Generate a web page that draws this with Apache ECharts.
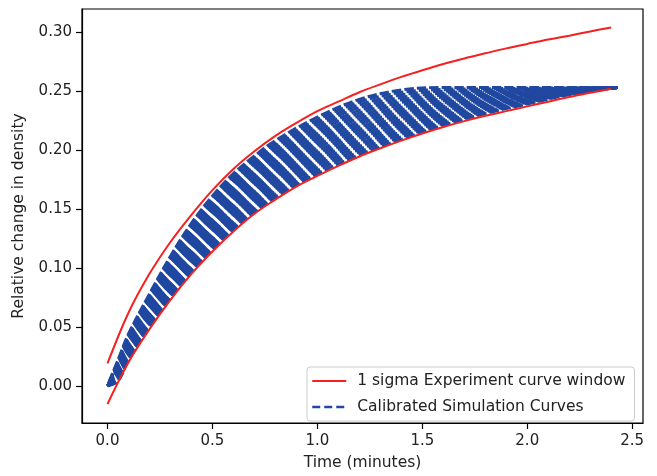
<!DOCTYPE html>
<html>
<head>
<meta charset="utf-8">
<script src="https://cdn.jsdelivr.net/npm/echarts@6/dist/echarts.min.js"></script>
<style>
html,body{margin:0;padding:0;background:#fff;}
#chart{width:657px;height:476px;}
</style>
</head>
<body>
<div id="chart"></div>
<script>
// Experiment 1-sigma window (red curves)
var expTime = [0,0.1,0.2,0.3,0.4,0.5,0.6,0.7,0.8,0.9,1.0,1.1,1.2,1.3,1.4,1.5,1.6,1.7,1.8,1.9,2.0,2.1,2.2,2.3,2.4];
var expUpper = [0.019,0.062,0.095,0.122,0.145,0.166,0.184,0.199,0.212,0.223,0.233,0.241,0.249,0.2557,0.262,0.2677,0.273,0.2777,0.282,0.2862,0.290,0.2937,0.297,0.3006,0.304];
var expLower = [-0.0155,0.020,0.048,0.073,0.095,0.114,0.131,0.146,0.158,0.169,0.178,0.1865,0.1945,0.2015,0.208,0.214,0.2195,0.2245,0.229,0.233,0.237,0.241,0.245,0.2485,0.252];

// Calibrated simulation curves (blue dashed), bottom to top
var simTime = [0,0.05,0.1,0.2,0.3,0.4,0.5,0.6,0.7,0.8,1.0,1.2,1.4,1.6,1.8,2.0,2.2,2.43];
var sim00 = [0,.004,.022,.050,.075,.097,.116,.133,.147,.160,.180,.196,.209,.221,.231,.239,.247,.253];
var sim01 = [0,.0049,.0231,.0514,.0768,.0991,.1183,.1354,.1494,.1624,.1824,.1984,.2111,.2226,.2321,.2397,.2473,.253];
var sim02 = [0,.0058,.0242,.0528,.0785,.1011,.1205,.1377,.1518,.1648,.1848,.2007,.2132,.2242,.2332,.2404,.2476,.253];
var sim03 = [0,.0067,.0253,.0542,.0803,.1032,.1228,.1401,.1542,.1672,.1872,.2031,.2153,.2258,.2343,.2411,.2479,.253];
var sim04 = [0,.0076,.0264,.0556,.0820,.1052,.1250,.1424,.1566,.1696,.1896,.2054,.2174,.2274,.2354,.2418,.2482,.253];
var sim05 = [0,.0085,.0275,.0570,.0838,.1073,.1273,.1448,.1590,.1720,.1920,.2078,.2195,.2290,.2365,.2425,.2485,.253];
var sim06 = [0,.0094,.0286,.0584,.0855,.1093,.1295,.1471,.1614,.1744,.1944,.2101,.2216,.2306,.2376,.2432,.2488,.253];
var sim07 = [0,.0103,.0297,.0598,.0873,.1114,.1318,.1495,.1638,.1768,.1968,.2125,.2237,.2322,.2387,.2439,.2491,.253];
var sim08 = [0,.0112,.0308,.0612,.0890,.1134,.1340,.1518,.1662,.1792,.1992,.2148,.2258,.2338,.2398,.2446,.2494,.253];
var sim09 = [0,.0121,.0319,.0626,.0908,.1155,.1363,.1542,.1686,.1816,.2016,.2172,.2279,.2354,.2409,.2453,.2497,.253];
var sim10 = [0,.0130,.0330,.0640,.0925,.1175,.1385,.1565,.1710,.1840,.2040,.2195,.2300,.2370,.2420,.2460,.2500,.253];
var sim11 = [0,.0139,.0341,.0654,.0943,.1196,.1408,.1589,.1734,.1864,.2064,.2219,.2321,.2386,.2431,.2467,.2503,.253];
var sim12 = [0,.0148,.0352,.0668,.0960,.1216,.1430,.1612,.1758,.1888,.2088,.2242,.2342,.2402,.2442,.2474,.2506,.253];
var sim13 = [0,.0157,.0363,.0682,.0978,.1237,.1453,.1636,.1782,.1912,.2112,.2266,.2363,.2418,.2453,.2481,.2509,.253];
var sim14 = [0,.0166,.0374,.0696,.0995,.1257,.1475,.1659,.1806,.1936,.2136,.2289,.2384,.2434,.2464,.2488,.2512,.253];
var sim15 = [0,.0175,.0385,.0710,.1013,.1278,.1498,.1683,.1830,.1960,.2160,.2313,.2405,.2450,.2475,.2495,.2515,.253];
var sim16 = [0,.0184,.0396,.0724,.1030,.1298,.1520,.1706,.1854,.1984,.2184,.2336,.2426,.2466,.2486,.2502,.2518,.253];
var sim17 = [0,.0193,.0407,.0738,.1048,.1319,.1543,.1730,.1878,.2008,.2208,.2360,.2447,.2482,.2497,.2509,.2521,.253];
var sim18 = [0,.0202,.0418,.0752,.1065,.1339,.1565,.1753,.1902,.2032,.2232,.2383,.2468,.2498,.2508,.2516,.2524,.253];
var sim19 = [0,.0211,.0429,.0766,.1083,.1360,.1588,.1777,.1926,.2056,.2256,.2407,.2489,.2514,.2519,.2523,.2527,.253];
var sim20 = [0,.0220,.0440,.0780,.1100,.1380,.1610,.1800,.1950,.2080,.2280,.2430,.2510,.2530,.2530,.2530,.2530,.253];

var xTicks = [0,0.5,1.0,1.5,2.0,2.5];
var yTicks = [0,0.05,0.10,0.15,0.20,0.25,0.30];

var expName = '1 sigma Experiment curve window';
var simName = 'Calibrated Simulation Curves';
var sims = [sim00,sim01,sim02,sim03,sim04,sim05,sim06,sim07,sim08,sim09,sim10,
            sim11,sim12,sim13,sim14,sim15,sim16,sim17,sim18,sim19,sim20];

var RED = '#f52020', BLUE = '#2048a0';
var DASH = [9.5, 3];
function pairs(xs, ys){ return xs.map(function(x,i){ return [x, ys[i]]; }); }

function buildSeries(offsets){
  var series = [];
  sims.forEach(function(s, j){
    series.push({
      type:'line', name: simName, data: pairs(simTime, s),
      showSymbol:false, symbol:'none', smooth:0.35, z:2,
      itemStyle:{color:BLUE},
      lineStyle:{color:BLUE, width:3, type:DASH, cap:'butt', dashOffset: offsets ? offsets[j] : 0}
    });
  });
  [expUpper, expLower].forEach(function(s){
    series.push({
      type:'line', name: expName, data: pairs(expTime, s),
      showSymbol:false, symbol:'none', smooth:0.35, z:3,
      itemStyle:{color:RED},
      lineStyle:{color:RED, width:2}
    });
  });
  return series;
}

var font = 'DejaVu Sans';
var hidden = {color:'rgba(0,0,0,0)', borderColor:'rgba(0,0,0,0)', borderWidth:0, opacity:0};
var chart = echarts.init(document.getElementById('chart'), null, {renderer:'canvas'});
chart.setOption({
  animation:false,
  backgroundColor:'#fff',
  grid:{left:82, top:9, right:14, bottom:50, show:true, borderColor:'#000', borderWidth:1.2, backgroundColor:'transparent'},
  legend:{
    orient:'vertical', left:307, top:367,
    padding:[6,9,6,4], itemGap:10, itemWidth:34, itemHeight:14,
    borderColor:'#cccccc', borderWidth:1, borderRadius:3, backgroundColor:'#fff',
    textStyle:{fontFamily:font, fontSize:15.5, color:'#222', padding:[0,0,0,6]},
    data:[
      {name:expName, itemStyle:hidden, lineStyle:{color:RED, width:2}},
      {name:simName, itemStyle:hidden, lineStyle:{color:BLUE, width:2.5, type:[8,4]}}
    ]
  },
  xAxis:{
    type:'value', min:-0.1215, max:2.5515,
    name:'Time (minutes)', nameLocation:'middle', nameGap:32,
    nameTextStyle:{fontFamily:font, fontSize:15.5, color:'#222'},
    axisLine:{onZero:false, lineStyle:{color:'#000', width:1.2}},
    axisTick:{show:true, length:6, lineStyle:{color:'#000', width:1.2}, customValues:xTicks},
    axisLabel:{fontFamily:font, fontSize:15, color:'#222', margin:11, customValues:xTicks,
      formatter:function(v){ return v.toFixed(1); }},
    splitLine:{show:false}
  },
  yAxis:{
    type:'value', min:-0.0315, max:0.3196,
    name:'Relative change in density', nameLocation:'middle', nameGap:55,
    nameTextStyle:{fontFamily:font, fontSize:15.5, color:'#222'},
    axisLine:{show:true, onZero:false, lineStyle:{color:'#000', width:1.2}},
    axisTick:{show:true, length:6, lineStyle:{color:'#000', width:1.2}, customValues:yTicks},
    axisLabel:{fontFamily:font, fontSize:15, color:'#222', margin:10, customValues:yTicks,
      formatter:function(v){ return v.toFixed(2); }},
    splitLine:{show:false}
  },
  series: buildSeries(null)
});

// Align the dash phase of the simulation curves along a cross-section of the band
// (pure styling: a dash offset per curve from the on-screen path lengths).
(function(){
  var X0 = 0.5;
  var polys = sims.map(function(s){
    var pts = pairs(simTime, s).map(function(p){ return chart.convertToPixel({gridIndex:0}, p); });
    var cum = [0];
    for (var i = 1; i < pts.length; i++) {
      var dx = pts[i][0]-pts[i-1][0], dy = pts[i][1]-pts[i-1][1];
      cum.push(cum[i-1] + Math.sqrt(dx*dx+dy*dy));
    }
    return {pts:pts, cum:cum};
  });
  var b = polys[0];
  var px0 = chart.convertToPixel({gridIndex:0}, [X0, 0])[0];
  var k = 0;
  while (k < b.pts.length-2 && b.pts[k+1][0] < px0) k++;
  var a = b.pts[k], c = b.pts[k+1];
  var t = (px0 - a[0]) / (c[0] - a[0]);
  var P0 = [a[0] + t*(c[0]-a[0]), a[1] + t*(c[1]-a[1])];
  var tl = Math.sqrt(Math.pow(c[0]-a[0],2)+Math.pow(c[1]-a[1],2));
  var T = [(c[0]-a[0])/tl, (c[1]-a[1])/tl];
  var s0 = b.cum[k] + t*(b.cum[k+1]-b.cum[k]);
  var offsets = polys.map(function(poly){
    var pts = poly.pts;
    for (var i = 0; i < pts.length-1; i++) {
      var d1 = (pts[i][0]-P0[0])*T[0] + (pts[i][1]-P0[1])*T[1];
      var d2 = (pts[i+1][0]-P0[0])*T[0] + (pts[i+1][1]-P0[1])*T[1];
      if (d1 <= 0 && d2 > 0) {
        var u = -d1 / (d2 - d1);
        var sj = poly.cum[i] + u*(poly.cum[i+1]-poly.cum[i]);
        return s0 - sj;
      }
    }
    return 0;
  });
  chart.setOption({series: buildSeries(offsets)});
})();
</script>
</body>
</html>
